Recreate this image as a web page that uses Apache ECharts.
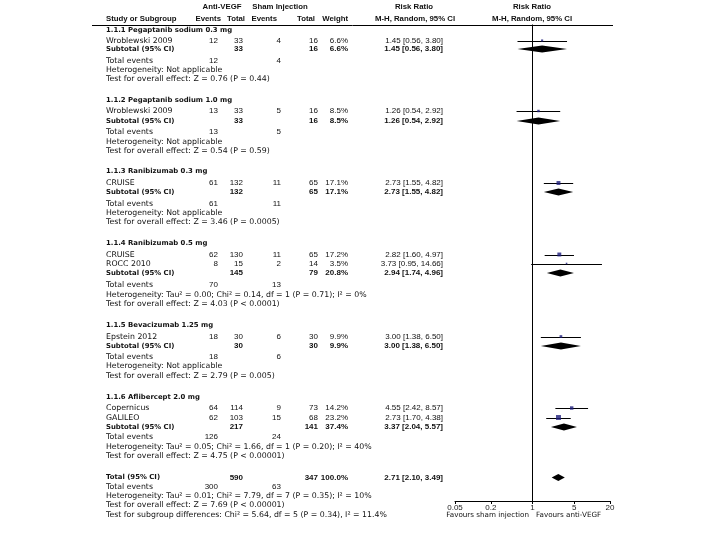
<!DOCTYPE html>
<html><head><meta charset="utf-8">
<script src="https://cdn.jsdelivr.net/npm/echarts@6/dist/echarts.min.js"></script>
<style>html,body{margin:0;padding:0;background:#fff}#c{width:720px;height:540px}</style>
</head><body><div id="c"></div>
<script>
// ---------- data ----------
const rowLabels = [
  '1.1.1 Pegaptanib sodium 0.3 mg','Wroblewski 2009','Subtotal (95% CI)','Total events','Heterogeneity: Not applicable','Test for overall effect: Z = 0.76 (P = 0.44)',
  '1.1.2 Pegaptanib sodium 1.0 mg','Wroblewski 2009','Subtotal (95% CI)','Total events','Heterogeneity: Not applicable','Test for overall effect: Z = 0.54 (P = 0.59)',
  '1.1.3 Ranibizumab 0.3 mg','CRUISE','Subtotal (95% CI)','Total events','Heterogeneity: Not applicable','Test for overall effect: Z = 3.46 (P = 0.0005)',
  '1.1.4 Ranibizumab 0.5 mg','CRUISE','ROCC 2010','Subtotal (95% CI)','Total events','Heterogeneity: Tau² = 0.00; Chi² = 0.14, df = 1 (P = 0.71); I² = 0%','Test for overall effect: Z = 4.03 (P < 0.0001)',
  '1.1.5 Bevacizumab 1.25 mg','Epstein 2012','Subtotal (95% CI)','Total events','Heterogeneity: Not applicable','Test for overall effect: Z = 2.79 (P = 0.005)',
  '1.1.6 Aflibercept 2.0 mg','Copernicus','GALILEO','Subtotal (95% CI)','Total events','Heterogeneity: Tau² = 0.05; Chi² = 1.66, df = 1 (P = 0.20); I² = 40%','Test for overall effect: Z = 4.75 (P < 0.00001)',
  'Total (95% CI)','Total events','Heterogeneity: Tau² = 0.01; Chi² = 7.79, df = 7 (P = 0.35); I² = 10%','Test for overall effect: Z = 7.69 (P < 0.00001)','Test for subgroup differences: Chi² = 5.64, df = 5 (P = 0.34), I² = 11.4%'
];
const rowKinds = [
  'group','study','subtotal','events','note','note',
  'group','study','subtotal','events','note','note',
  'group','study','subtotal','events','note','note',
  'group','study','study','subtotal','events','note','note',
  'group','study','subtotal','events','note','note',
  'group','study','study','subtotal','events','note','note',
  'subtotal','events','note','note','note'
];
const eventsA = ['','12','','12','','', '','13','','13','','', '','61','','61','','', '','62','8','','70','','', '','18','','18','','', '','64','62','','126','','', '','300','','',''];
const totalA  = ['','33','33','','','', '','33','33','','','', '','132','132','','','', '','130','15','145','','','', '','30','30','','','', '','114','103','217','','','', '590','','','',''];
const eventsB = ['','4','','4','','', '','5','','5','','', '','11','','11','','', '','11','2','','13','','', '','6','','6','','', '','9','15','','24','','', '','63','','',''];
const totalB  = ['','16','16','','','', '','16','16','','','', '','65','65','','','', '','65','14','79','','','', '','30','30','','','', '','73','68','141','','','', '347','','','',''];
const weights = ['','6.6%','6.6%','','','', '','8.5%','8.5%','','','', '','17.1%','17.1%','','','', '','17.2%','3.5%','20.8%','','','', '','9.9%','9.9%','','','', '','14.2%','23.2%','37.4%','','','', '100.0%','','','',''];
const rrEst  = [null,1.45,1.45,null,null,null, null,1.26,1.26,null,null,null, null,2.73,2.73,null,null,null, null,2.82,3.73,2.94,null,null,null, null,3.00,3.00,null,null,null, null,4.55,2.73,3.37,null,null,null, 2.71,null,null,null,null];
const rrLow  = [null,0.56,0.56,null,null,null, null,0.54,0.54,null,null,null, null,1.55,1.55,null,null,null, null,1.60,0.95,1.74,null,null,null, null,1.38,1.38,null,null,null, null,2.42,1.70,2.04,null,null,null, 2.10,null,null,null,null];
const rrHigh = [null,3.80,3.80,null,null,null, null,2.92,2.92,null,null,null, null,4.82,4.82,null,null,null, null,4.97,14.66,4.96,null,null,null, null,6.50,6.50,null,null,null, null,8.57,4.38,5.57,null,null,null, 3.49,null,null,null,null];
const headerTop = ['Anti-VEGF','Sham Injection','Risk Ratio','Risk Ratio'];
const headerBottom = ['Study or Subgroup','Events','Total','Events','Total','Weight','M-H, Random, 95% CI','M-H, Random, 95% CI'];
const tickValues = [0.05, 0.2, 1, 5, 20];
const favourLabels = ['Favours sham injection','Favours anti-VEGF'];

// ---------- layout (pixel rows / columns) ----------
const rowPos = [
  30,40.5,49,60.5,69.5,78.5,
  100,111,121,132,141.5,150.5,
  171.5,183,192,204,213,222,
  243.5,254.5,263.5,273,285,294.5,303.5,
  325,336.5,346,357,366,375.5,
  397,408,417.5,427,437,446.5,456,
  477.5,487,496,505,514.5
];
const LFONT = '"DejaVu Sans", Verdana, sans-serif';
const NFONT = '"Liberation Sans", Arial, sans-serif';
const TXT = '#111';
const col = {name:106, eA:218, tA:243, eB:281, tB:318, w:348, rr:443};
const headY1 = 7, headY2 = 18.5, ruleY = 24.5, axisY = 501;

function fmtRR(i){
  if (rrEst[i] == null) return '';
  const f = v => v.toFixed(2);
  return f(rrEst[i]) + ' [' + f(rrLow[i]) + ', ' + f(rrHigh[i]) + ']';
}
function txt(api, text, x, y, align, font){
  const p = api.coord([x, y]);
  return {type:'text', style:{text:text, x:p[0], y:p[1], align:align, verticalAlign:'middle', font:font, fill:TXT}};
}
const F = {
  label:  '7.8px ' + LFONT,
  labelB: 'bold 6.9px ' + LFONT,
  num:    '8px ' + NFONT,
  numB:   'bold 8px ' + NFONT,
  head:   'bold 7.8px ' + NFONT,
  fav:    '7.2px ' + LFONT
};

const chart = echarts.init(document.getElementById('c'), null, {renderer:'canvas'});

const tableData = rowLabels.map((_, i) => [i, rowPos[i]]);
const studyIdx = rowKinds.map((k,i)=>k==='study'?i:-1).filter(i=>i>=0);
const diaIdx = rowKinds.map((k,i)=>k==='subtotal'?i:-1).filter(i=>i>=0);

chart.setOption({
  animation:false,
  backgroundColor:'#fff',
  grid:[
    {left:0, right:0, top:0, bottom:0},
    {left:455, right:110, top:ruleY, bottom:540-axisY}
  ],
  xAxis:[
    {type:'value', gridIndex:0, min:0, max:720, show:false},
    {type:'log', gridIndex:1, logBase:10, min:0.05, max:20,
      axisLine:{show:true, onZero:false, lineStyle:{color:'#000', width:1}},
      axisTick:{show:true, customValues:tickValues, length:3, lineStyle:{color:'#000'}},
      axisLabel:{show:true, customValues:tickValues, margin:3, fontSize:8, fontFamily:'Liberation Sans', color:'#222',
        formatter:v=>String(Number(Number(v).toPrecision(3)))},
      splitLine:{show:false}, minorTick:{show:false}}
  ],
  yAxis:[
    {type:'value', gridIndex:0, min:0, max:540, inverse:true, show:false},
    {type:'value', gridIndex:1, min:ruleY, max:axisY, inverse:true, show:false}
  ],
  series:[
    { // frame: headers, rule, favours labels
      type:'custom', xAxisIndex:0, yAxisIndex:0, silent:true, data:[[0,0]],
      renderItem:(params, api)=>{
        const ch = [];
        ch.push(txt(api, headerTop[0], 222, headY1, 'center', F.head));
        ch.push(txt(api, headerTop[1], 280, headY1, 'center', F.head));
        ch.push(txt(api, headerTop[2], 414, headY1, 'center', F.head));
        ch.push(txt(api, headerTop[3], 532, headY1, 'center', F.head));
        ch.push(txt(api, headerBottom[0], col.name, headY2, 'left', F.head));
        ch.push(txt(api, headerBottom[1], col.eA+3, headY2, 'right', F.head));
        ch.push(txt(api, headerBottom[2], col.tA+2, headY2, 'right', F.head));
        ch.push(txt(api, headerBottom[3], col.eB-4, headY2, 'right', F.head));
        ch.push(txt(api, headerBottom[4], col.tB-3, headY2, 'right', F.head));
        ch.push(txt(api, headerBottom[5], col.w, headY2, 'right', F.head));
        ch.push(txt(api, headerBottom[6], 415, headY2, 'center', F.head));
        ch.push(txt(api, headerBottom[7], 532, headY2, 'center', F.head));
        const a = api.coord([92, ruleY]), b = api.coord([613, ruleY]);
        ch.push({type:'line', shape:{x1:a[0], y1:Math.round(a[1])+0.5, x2:b[0], y2:Math.round(b[1])+0.5}, style:{stroke:'#000', lineWidth:1}});
        ch.push(txt(api, favourLabels[0], 529, 515, 'right', F.fav));
        ch.push(txt(api, favourLabels[1], 536, 515, 'left', F.fav));
        return {type:'group', children:ch};
      }
    },
    { // table rows
      type:'custom', xAxisIndex:0, yAxisIndex:0, silent:true, data:tableData,
      renderItem:(params, api)=>{
        const i = api.value(0), y = api.value(1);
        const k = rowKinds[i];
        const bold = (k==='group' || k==='subtotal');
        const ch = [txt(api, rowLabels[i], col.name, y, 'left', bold ? F.labelB : F.label)];
        const cells = [[eventsA[i], col.eA],[totalA[i], col.tA],[eventsB[i], col.eB],[totalB[i], col.tB],[weights[i], col.w],[fmtRR(i), col.rr]];
        cells.forEach(c=>{ if (c[0] !== '') ch.push(txt(api, c[0], c[1], y, 'right', bold ? F.numB : F.num)); });
        return {type:'group', children:ch};
      }
    },
    { // confidence interval lines
      type:'custom', xAxisIndex:1, yAxisIndex:1, silent:true, clip:false,
      data: studyIdx.map(i=>[rrLow[i], rrHigh[i], rowPos[i]]),
      renderItem:(params, api)=>{
        const a = api.coord([api.value(0), api.value(2)]);
        const b = api.coord([api.value(1), api.value(2)]);
        const yy = Math.round(a[1]) + 0.5;
        return {type:'line', shape:{x1:a[0], y1:yy, x2:b[0], y2:yy}, style:{stroke:'#000', lineWidth:1}};
      },
      markLine:{silent:true, symbol:['none','none'], label:{show:false},
        lineStyle:{color:'#000', width:1, type:'solid'}, data:[{xAxis:1}]}
    },
    { // study markers
      type:'scatter', xAxisIndex:1, yAxisIndex:1, silent:true,
      symbol:'rect',
      data: studyIdx.map(i=>[rrEst[i], rowPos[i], parseFloat(weights[i])]),
      symbolSize: d => 1 + d[2]*0.17,
      itemStyle:{color:'#1d1d7a'}
    },
    { // diamonds
      type:'custom', xAxisIndex:1, yAxisIndex:1, silent:true, clip:false,
      data: diaIdx.map(i=>[rrLow[i], rrEst[i], rrHigh[i], rowPos[i]]),
      renderItem:(params, api)=>{
        const y = api.value(3);
        const l = api.coord([api.value(0), y]);
        const m = api.coord([api.value(1), y]);
        const r = api.coord([api.value(2), y]);
        const h = 3.5;
        return {type:'polygon', shape:{points:[[l[0],l[1]],[m[0],m[1]-h],[r[0],r[1]],[m[0],m[1]+h]]}, style:{fill:'#000'}};
      }
    }
  ]
});
</script>
</body></html>
